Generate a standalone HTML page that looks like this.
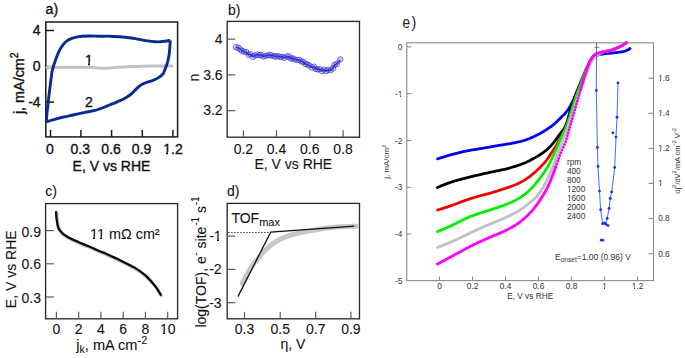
<!DOCTYPE html>
<html><head><meta charset="utf-8"><title>Figure</title>
<style>
html,body{margin:0;padding:0;background:#fff;}
body{width:685px;height:358px;overflow:hidden;font-family:"Liberation Sans",sans-serif;}
svg{display:block;}
</style></head><body>
<svg width="685" height="358" viewBox="0 0 685 358">
<rect width="685" height="358" fill="#fff"/>
<g stroke="#1a1a1a" stroke-width="1.5" fill="none">
<rect x="45.80" y="22.00" width="131.80" height="114.90"/>
<line x1="45.80" y1="30.50" x2="54.00" y2="30.50"/>
<line x1="45.80" y1="66.60" x2="54.00" y2="66.60"/>
<line x1="45.80" y1="102.10" x2="54.00" y2="102.10"/>
<line x1="50.50" y1="136.90" x2="50.50" y2="129.90"/>
<line x1="80.90" y1="136.90" x2="80.90" y2="129.90"/>
<line x1="111.60" y1="136.90" x2="111.60" y2="129.90"/>
<line x1="142.30" y1="136.90" x2="142.30" y2="129.90"/>
<line x1="172.90" y1="136.90" x2="172.90" y2="129.90"/>
</g>
<path d="M47.00,67.40 C49.17,67.38 55.33,67.33 60.00,67.30 C64.67,67.27 70.83,67.21 75.00,67.20 C79.17,67.19 82.17,67.20 85.00,67.25 C87.83,67.30 89.83,67.39 92.00,67.50 C94.17,67.61 96.00,67.78 98.00,67.90 C100.00,68.02 102.00,68.18 104.00,68.20 C106.00,68.22 108.17,68.12 110.00,68.00 C111.83,67.88 113.00,67.68 115.00,67.50 C117.00,67.32 118.67,67.08 122.00,66.90 C125.33,66.72 130.33,66.53 135.00,66.40 C139.67,66.27 143.83,66.17 150.00,66.10 C156.17,66.03 168.33,66.02 172.00,66.00" stroke="#c2c2c2" stroke-width="3.0" fill="none" stroke-linecap="round"/>
<path d="M46.30,121.80 C46.43,120.17 46.85,114.63 47.10,112.00 C47.35,109.37 47.52,108.50 47.80,106.00 C48.08,103.50 48.45,100.00 48.80,97.00 C49.15,94.00 49.55,90.83 49.90,88.00 C50.25,85.17 50.55,82.67 50.90,80.00 C51.25,77.33 51.52,74.47 52.00,72.00 C52.48,69.53 53.10,67.50 53.80,65.20 C54.50,62.90 55.32,60.55 56.20,58.20 C57.08,55.85 58.03,53.25 59.10,51.10 C60.17,48.95 61.23,47.05 62.60,45.30 C63.97,43.55 65.53,41.82 67.30,40.60 C69.07,39.38 71.42,38.63 73.20,38.00 C74.98,37.37 76.53,37.10 78.00,36.80 C79.47,36.50 80.00,36.33 82.00,36.20 C84.00,36.07 87.00,36.00 90.00,36.00 C93.00,36.00 96.67,36.17 100.00,36.20 C103.33,36.23 106.67,36.10 110.00,36.20 C113.33,36.30 117.50,36.62 120.00,36.80 C122.50,36.98 122.48,37.00 125.00,37.30 C127.52,37.60 131.32,38.00 135.10,38.60 C138.88,39.20 144.38,40.38 147.70,40.90 C151.02,41.42 152.90,41.55 155.00,41.70 C157.10,41.85 158.63,41.87 160.30,41.80 C161.97,41.73 163.33,41.55 165.00,41.30 C166.67,41.05 169.42,40.47 170.30,40.30 M170.30,40.30 C170.23,41.33 170.05,44.47 169.90,46.50 C169.75,48.53 169.62,50.67 169.40,52.50 C169.18,54.33 168.90,55.92 168.60,57.50 C168.30,59.08 167.93,60.72 167.60,62.00 C167.27,63.28 166.98,64.13 166.60,65.20 C166.22,66.27 165.87,67.00 165.30,68.40 C164.73,69.80 164.32,72.07 163.20,73.60 C162.08,75.13 160.30,76.48 158.60,77.60 C156.90,78.72 154.87,79.55 153.00,80.30 C151.13,81.05 149.27,81.42 147.40,82.10 C145.53,82.78 143.37,83.52 141.80,84.40 C140.23,85.28 139.22,86.33 138.00,87.40 C136.78,88.47 135.83,89.53 134.50,90.80 C133.17,92.07 131.73,93.68 130.00,95.00 C128.27,96.32 125.93,97.70 124.10,98.70 C122.27,99.70 120.62,100.27 119.00,101.00 C117.38,101.73 115.98,102.43 114.40,103.10 C112.82,103.77 111.13,104.35 109.50,105.00 C107.87,105.65 106.23,106.37 104.60,107.00 C102.97,107.63 101.33,108.23 99.70,108.80 C98.07,109.37 97.25,109.80 94.80,110.40 C92.35,111.00 88.63,111.63 85.00,112.40 C81.37,113.17 76.57,114.23 73.00,115.00 C69.43,115.77 66.60,116.28 63.60,117.00 C60.60,117.72 57.88,118.50 55.00,119.30 C52.12,120.10 47.75,121.38 46.30,121.80" stroke="#0a2992" stroke-width="2.9" fill="none" stroke-linejoin="round"/>
<g font-family="Liberation Sans, sans-serif" font-size="14" fill="#111" stroke="#111" stroke-width="0.35">
<text x="45.6" y="14.3">a)</text>
<text x="40.6" y="35.2" text-anchor="end">4</text>
<text x="40.6" y="71.2" text-anchor="end">0</text>
<text x="40.6" y="106.6" text-anchor="end">-4</text>
<text x="49.9" y="154.2" text-anchor="middle">0</text>
<text x="80.3" y="154.2" text-anchor="middle">0.3</text>
<text x="111.1" y="154.2" text-anchor="middle">0.6</text>
<text x="141.6" y="154.2" text-anchor="middle">0.9</text>
<text x="173.0" y="154.2" text-anchor="middle">1.2</text>
<text x="111.5" y="170.9" text-anchor="middle">E, V vs RHE</text>
<text transform="translate(23.6,83.2) rotate(-90)" text-anchor="middle" font-size="14.4">j, mA/cm<tspan font-size="10.5" dy="-6">2</tspan></text>
<text x="89" y="64.6" text-anchor="middle">1</text>
<text x="89" y="107.2" text-anchor="middle">2</text>
</g>
<g stroke="#2a2a2a" stroke-width="1.35" fill="none">
<rect x="227.20" y="21.40" width="132.30" height="115.80"/>
</g><g stroke="#5a5a5a" stroke-width="1.2" fill="none">
<line x1="227.20" y1="39.10" x2="235.20" y2="39.10"/>
<line x1="227.20" y1="74.90" x2="235.20" y2="74.90"/>
<line x1="227.20" y1="110.70" x2="235.20" y2="110.70"/>
<line x1="243.40" y1="137.20" x2="243.40" y2="130.20"/>
<line x1="276.50" y1="137.20" x2="276.50" y2="130.20"/>
<line x1="309.80" y1="137.20" x2="309.80" y2="130.20"/>
<line x1="343.10" y1="137.20" x2="343.10" y2="130.20"/>
</g>
<path d="M236.10,48.10 L236.60,48.27 L237.10,48.44 L237.60,48.63 L238.10,48.82 L238.60,49.01 L239.10,49.22 L239.60,49.43 L240.10,49.64 L240.60,49.87 L241.10,50.11 L241.60,50.36 L242.10,50.61 L242.60,50.87 L243.10,51.13 L243.60,51.39 L244.10,51.65 L244.60,51.92 L245.10,52.19 L245.60,52.47 L246.10,52.76 L246.60,53.04 L247.10,53.31 L247.60,53.57 L248.10,53.82 L248.60,54.04 L249.10,54.24 L249.60,54.43 L250.10,54.63 L250.60,54.83 L251.10,55.02 L251.60,55.21 L252.10,55.37 L252.60,55.52 L253.10,55.64 L253.60,55.73 L254.10,55.79 L254.60,55.80 L255.10,55.80 L255.60,55.80 L256.10,55.80 L256.60,55.80 L257.10,55.80 L257.60,55.80 L258.10,55.80 L258.60,55.80 L259.10,55.80 L259.60,55.80 L260.10,55.80 L260.60,55.80 L261.10,55.79 L261.60,55.78 L262.10,55.76 L262.60,55.75 L263.10,55.73 L263.60,55.72 L264.10,55.71 L264.60,55.70 L265.10,55.70 L265.60,55.71 L266.10,55.72 L266.60,55.75 L267.10,55.78 L267.60,55.82 L268.10,55.86 L268.60,55.89 L269.10,55.93 L269.60,55.97 L270.10,56.01 L270.60,56.04 L271.10,56.08 L271.60,56.12 L272.10,56.16 L272.60,56.20 L273.10,56.24 L273.60,56.28 L274.10,56.32 L274.60,56.35 L275.10,56.38 L275.60,56.40 L276.10,56.43 L276.60,56.45 L277.10,56.46 L277.60,56.48 L278.10,56.49 L278.60,56.51 L279.10,56.52 L279.60,56.54 L280.10,56.56 L280.60,56.58 L281.10,56.61 L281.60,56.63 L282.10,56.66 L282.60,56.70 L283.10,56.73 L283.60,56.77 L284.10,56.81 L284.60,56.86 L285.10,56.91 L285.60,56.96 L286.10,57.01 L286.60,57.07 L287.10,57.14 L287.60,57.22 L288.10,57.31 L288.60,57.40 L289.10,57.50 L289.60,57.60 L290.10,57.70 L290.60,57.81 L291.10,57.92 L291.60,58.04 L292.10,58.17 L292.60,58.30 L293.10,58.44 L293.60,58.59 L294.10,58.74 L294.60,58.89 L295.10,59.05 L295.60,59.21 L296.10,59.37 L296.60,59.53 L297.10,59.70 L297.60,59.86 L298.10,60.03 L298.60,60.21 L299.10,60.38 L299.60,60.57 L300.10,60.75 L300.60,60.94 L301.10,61.14 L301.60,61.34 L302.10,61.55 L302.60,61.77 L303.10,61.99 L303.60,62.22 L304.10,62.44 L304.60,62.68 L305.10,62.91 L305.60,63.14 L306.10,63.38 L306.60,63.61 L307.10,63.86 L307.60,64.10 L308.10,64.35 L308.60,64.60 L309.10,64.85 L309.60,65.10 L310.10,65.35 L310.60,65.61 L311.10,65.87 L311.60,66.13 L312.10,66.39 L312.60,66.66 L313.10,66.92 L313.60,67.19 L314.10,67.45 L314.60,67.72 L315.10,68.00 L315.60,68.27 L316.10,68.54 L316.60,68.80 L317.10,69.05 L317.60,69.31 L318.10,69.57 L318.60,69.80 L319.10,69.96 L319.60,70.05 L320.10,70.12 L320.60,70.18 L321.10,70.23 L321.60,70.27 L322.10,70.29 L322.60,70.30 L323.10,70.29 L323.60,70.28 L324.10,70.26 L324.60,70.24 L325.10,70.21 L325.60,70.19 L326.10,70.17 L326.60,70.15 L327.10,70.12 L327.60,70.09 L328.10,70.04 L328.60,69.99 L329.10,69.86 L329.60,69.67 L330.10,69.42 L330.60,69.15 L331.10,68.85 L331.60,68.48 L332.10,68.05 L332.60,67.58 L333.10,67.10 L333.60,66.56 L334.10,65.97 L334.60,65.37 L335.10,64.80 L335.60,64.28 L336.10,63.77 L336.60,63.28 L337.10,62.79 L337.60,62.30 L338.10,61.80 L338.60,61.30 L339.10,60.80 L339.60,60.30 L340.10,59.80 L340.30,59.60" stroke="#c4c4f2" stroke-width="4.4" fill="none" stroke-linejoin="round" stroke-linecap="round"/>
<g stroke="#4a4ad8" stroke-width="0.85" fill="none">
<circle cx="236.0" cy="47.2" r="2.7"/>
<circle cx="238.3" cy="47.7" r="2.7"/>
<circle cx="240.3" cy="49.4" r="2.7"/>
<circle cx="242.0" cy="50.8" r="2.7"/>
<circle cx="244.1" cy="51.7" r="2.7"/>
<circle cx="246.3" cy="52.0" r="2.7"/>
<circle cx="248.6" cy="54.9" r="2.7"/>
<circle cx="250.5" cy="54.2" r="2.7"/>
<circle cx="253.0" cy="56.8" r="2.7"/>
<circle cx="255.1" cy="55.5" r="2.7"/>
<circle cx="257.5" cy="54.6" r="2.7"/>
<circle cx="259.5" cy="55.3" r="2.7"/>
<circle cx="261.0" cy="54.8" r="2.7"/>
<circle cx="263.2" cy="56.5" r="2.7"/>
<circle cx="265.2" cy="55.9" r="2.7"/>
<circle cx="267.7" cy="55.5" r="2.7"/>
<circle cx="269.7" cy="54.8" r="2.7"/>
<circle cx="271.4" cy="55.4" r="2.7"/>
<circle cx="274.0" cy="56.1" r="2.7"/>
<circle cx="275.9" cy="56.6" r="2.7"/>
<circle cx="278.1" cy="56.0" r="2.7"/>
<circle cx="280.4" cy="57.1" r="2.7"/>
<circle cx="282.1" cy="56.9" r="2.7"/>
<circle cx="284.4" cy="57.8" r="2.7"/>
<circle cx="286.7" cy="56.5" r="2.7"/>
<circle cx="289.0" cy="56.4" r="2.7"/>
<circle cx="290.6" cy="58.5" r="2.7"/>
<circle cx="292.5" cy="58.3" r="2.7"/>
<circle cx="294.5" cy="59.4" r="2.7"/>
<circle cx="297.2" cy="59.9" r="2.7"/>
<circle cx="299.4" cy="59.9" r="2.7"/>
<circle cx="301.4" cy="61.4" r="2.7"/>
<circle cx="303.4" cy="62.0" r="2.7"/>
<circle cx="305.7" cy="64.2" r="2.7"/>
<circle cx="307.5" cy="64.5" r="2.7"/>
<circle cx="309.2" cy="65.6" r="2.7"/>
<circle cx="311.8" cy="67.5" r="2.7"/>
<circle cx="314.1" cy="66.7" r="2.7"/>
<circle cx="315.8" cy="68.9" r="2.7"/>
<circle cx="317.6" cy="69.4" r="2.7"/>
<circle cx="319.8" cy="69.1" r="2.7"/>
<circle cx="321.8" cy="71.0" r="2.7"/>
<circle cx="324.0" cy="69.6" r="2.7"/>
<circle cx="326.3" cy="71.1" r="2.7"/>
<circle cx="328.2" cy="69.9" r="2.7"/>
<circle cx="330.6" cy="70.2" r="2.7"/>
<circle cx="333.0" cy="68.4" r="2.7"/>
<circle cx="334.6" cy="64.9" r="2.7"/>
<circle cx="336.8" cy="64.0" r="2.7"/>
<circle cx="340.3" cy="59.4" r="2.7"/>
</g>
<path d="M236.35,47.25 L237.02,47.39 L237.88,47.67 L238.75,48.11 L239.55,48.70 L240.30,49.35 L241.06,49.99 L241.86,50.59 L242.72,51.09 L243.63,51.46 L244.58,51.72 L245.53,51.95 L246.38,52.34 L247.06,52.99 L247.64,53.75 L248.28,54.37 L249.06,54.59 L249.92,54.52 L250.74,54.64 L251.45,55.16 L252.10,55.84 L252.81,56.31 L253.62,56.31 L254.46,55.94 L255.32,55.45 L256.22,55.05 L257.15,54.83 L258.10,54.87 L259.05,55.02 L259.99,55.05 L260.89,55.09 L261.72,55.40 L262.49,55.91 L263.32,56.24 L264.22,56.22 L265.17,56.00 L266.14,55.77 L267.11,55.57 L268.08,55.33 L269.03,55.10 L269.99,55.04 L270.94,55.21 L271.90,55.49 L272.85,55.77 L273.81,56.06 L274.77,56.32 L275.72,56.45 L276.68,56.37 L277.62,56.22 L278.54,56.30 L279.44,56.60 L280.36,56.88 L281.31,56.97 L282.27,57.07 L283.20,57.31 L284.10,57.51 L284.99,57.40 L285.85,57.02 L286.74,56.66 L287.69,56.51 L288.60,56.61 L289.37,57.03 L290.02,57.67 L290.73,58.18 L291.60,58.39 L292.54,58.52 L293.45,58.83 L294.34,59.22 L295.27,59.54 L296.24,59.72 L297.23,59.82 L298.22,59.89 L299.18,60.05 L300.05,60.42 L300.85,60.95 L301.70,61.42 L302.60,61.79 L303.47,62.23 L304.22,62.83 L304.94,63.49 L305.74,64.02 L306.64,64.35 L307.57,64.65 L308.44,65.09 L309.25,65.66 L310.03,66.28 L310.82,66.85 L311.67,67.17 L312.58,67.17 L313.48,67.06 L314.29,67.24 L314.97,67.81 L315.64,68.48 L316.43,69.00 L317.35,69.26 L318.32,69.30 L319.27,69.31 L320.13,69.56 L320.88,70.08 L321.61,70.51 L322.39,70.51 L323.19,70.17 L324.01,69.97 L324.83,70.19 L325.64,70.59 L326.45,70.72 L327.28,70.46 L328.13,70.13 L329.06,70.01 L330.03,70.02 L330.97,69.88 L331.81,69.45 L332.52,68.80 L333.10,68.01 L333.56,67.13 L333.97,66.23 L334.47,65.41 L335.17,64.77 L336.01,64.30 L336.86,63.81 L337.63,63.19 L338.30,62.47 L338.90,61.67 L339.44,60.86 L339.89,60.11" stroke="#2c2cc6" stroke-width="1.5" fill="none" stroke-linejoin="round"/>
<g font-family="Liberation Sans, sans-serif" font-size="14" fill="#111" stroke="#111" stroke-width="0.08">
<text x="228" y="14.5">b)</text>
<text x="222.6" y="44.1" text-anchor="end">4</text>
<text x="222.6" y="79.8" text-anchor="end">3.6</text>
<text x="222.6" y="115.3" text-anchor="end">3.2</text>
<text x="243.4" y="154.1" text-anchor="middle">0.2</text>
<text x="276.5" y="154.1" text-anchor="middle">0.4</text>
<text x="309.8" y="154.1" text-anchor="middle">0.6</text>
<text x="343.1" y="154.1" text-anchor="middle">0.8</text>
<text x="293.3" y="168.8" text-anchor="middle">E, V vs RHE</text>
<text transform="translate(198.6,77.6) rotate(-90)" text-anchor="middle">n</text>
</g>
<g stroke="#2a2a2a" stroke-width="1.35" fill="none">
<rect x="45.60" y="203.60" width="132.00" height="115.20"/>
</g><g stroke="#5a5a5a" stroke-width="1.2" fill="none">
<line x1="45.60" y1="230.60" x2="53.80" y2="230.60"/>
<line x1="45.60" y1="263.80" x2="53.80" y2="263.80"/>
<line x1="45.60" y1="297.00" x2="53.80" y2="297.00"/>
<line x1="56.40" y1="318.80" x2="56.40" y2="311.80"/>
<line x1="78.66" y1="318.80" x2="78.66" y2="311.80"/>
<line x1="100.92" y1="318.80" x2="100.92" y2="311.80"/>
<line x1="123.18" y1="318.80" x2="123.18" y2="311.80"/>
<line x1="145.44" y1="318.80" x2="145.44" y2="311.80"/>
<line x1="167.70" y1="318.80" x2="167.70" y2="311.80"/>
</g>
<path d="M56.70,213.00 C56.73,213.65 56.80,215.65 56.90,216.90 C57.00,218.15 57.07,218.93 57.30,220.50 C57.53,222.07 57.95,224.77 58.30,226.30 C58.65,227.83 58.92,228.72 59.40,229.70 C59.88,230.68 60.50,231.37 61.20,232.20 C61.90,233.03 62.62,233.88 63.60,234.70 C64.58,235.52 65.77,236.27 67.10,237.10 C68.43,237.93 69.97,238.88 71.60,239.70 C73.23,240.52 75.07,241.20 76.90,242.00 C78.73,242.80 80.65,243.68 82.60,244.50 C84.55,245.32 86.60,246.07 88.60,246.90 C90.60,247.73 92.63,248.63 94.60,249.50 C96.57,250.37 98.57,251.33 100.40,252.10 C102.23,252.87 103.65,253.25 105.60,254.10 C107.55,254.95 110.15,256.30 112.10,257.20 C114.05,258.10 115.47,258.63 117.30,259.50 C119.13,260.37 121.13,261.43 123.10,262.40 C125.07,263.37 127.10,264.28 129.10,265.30 C131.10,266.32 133.15,267.35 135.10,268.50 C137.05,269.65 138.97,270.88 140.80,272.20 C142.63,273.52 144.47,274.93 146.10,276.40 C147.73,277.87 149.35,279.67 150.60,281.00 C151.85,282.33 152.63,283.27 153.60,284.40 C154.57,285.53 155.50,286.58 156.40,287.80 C157.30,289.02 158.18,290.38 159.00,291.70 C159.82,293.02 160.92,295.03 161.30,295.70" stroke="#c8c8c8" stroke-width="3.6" fill="none" stroke-linecap="round"/>
<path d="M56.10,212.10 C56.13,212.75 56.20,214.75 56.30,216.00 C56.40,217.25 56.47,218.03 56.70,219.60 C56.93,221.17 57.35,223.87 57.70,225.40 C58.05,226.93 58.32,227.82 58.80,228.80 C59.28,229.78 59.90,230.47 60.60,231.30 C61.30,232.13 62.02,232.98 63.00,233.80 C63.98,234.62 65.17,235.37 66.50,236.20 C67.83,237.03 69.37,237.98 71.00,238.80 C72.63,239.62 74.47,240.30 76.30,241.10 C78.13,241.90 80.05,242.78 82.00,243.60 C83.95,244.42 86.00,245.17 88.00,246.00 C90.00,246.83 92.03,247.73 94.00,248.60 C95.97,249.47 97.97,250.43 99.80,251.20 C101.63,251.97 103.05,252.35 105.00,253.20 C106.95,254.05 109.55,255.40 111.50,256.30 C113.45,257.20 114.87,257.73 116.70,258.60 C118.53,259.47 120.53,260.53 122.50,261.50 C124.47,262.47 126.50,263.38 128.50,264.40 C130.50,265.42 132.55,266.45 134.50,267.60 C136.45,268.75 138.37,269.98 140.20,271.30 C142.03,272.62 143.87,274.03 145.50,275.50 C147.13,276.97 148.75,278.77 150.00,280.10 C151.25,281.43 152.03,282.37 153.00,283.50 C153.97,284.63 154.90,285.68 155.80,286.90 C156.70,288.12 157.58,289.48 158.40,290.80 C159.22,292.12 160.32,294.13 160.70,294.80" stroke="#0a0a0a" stroke-width="2.25" fill="none" stroke-linecap="round"/>
<g font-family="Liberation Sans, sans-serif" font-size="14" fill="#111" stroke="#111" stroke-width="0.08">
<text x="45.2" y="195.8">c)</text>
<text x="41" y="236.6" text-anchor="end">0.9</text>
<text x="41" y="268.6" text-anchor="end">0.6</text>
<text x="41" y="302.8" text-anchor="end">0.3</text>
<text x="56.4" y="333.6" text-anchor="middle">0</text>
<text x="78.7" y="333.6" text-anchor="middle">2</text>
<text x="100.9" y="333.6" text-anchor="middle">4</text>
<text x="123.2" y="333.6" text-anchor="middle">6</text>
<text x="145.4" y="333.6" text-anchor="middle">8</text>
<text x="167.7" y="333.6" text-anchor="middle">10</text>
<text x="90" y="238.5" font-size="14.4">11 mΩ cm²</text>
<text transform="translate(16.2,269.3) rotate(-90)" text-anchor="middle">E, V vs RHE</text>
<text x="76.3" y="350" font-size="14.6">j<tspan font-size="10.5" dy="3">k</tspan><tspan dy="-3">, mA cm</tspan><tspan font-size="11" dy="-6.5">-2</tspan></text>
</g>
<g stroke="#2a2a2a" stroke-width="1.35" fill="none">
<rect x="227.20" y="203.40" width="132.30" height="115.40"/>
</g><g stroke="#5a5a5a" stroke-width="1.2" fill="none">
<line x1="227.20" y1="236.10" x2="235.20" y2="236.10"/>
<line x1="227.20" y1="269.40" x2="235.20" y2="269.40"/>
<line x1="227.20" y1="302.70" x2="235.20" y2="302.70"/>
<line x1="244.50" y1="318.80" x2="244.50" y2="311.80"/>
<line x1="280.20" y1="318.80" x2="280.20" y2="311.80"/>
<line x1="315.70" y1="318.80" x2="315.70" y2="311.80"/>
<line x1="350.90" y1="318.80" x2="350.90" y2="311.80"/>
</g>
<line x1="228.2" y1="232.5" x2="270" y2="232.5" stroke="#333" stroke-width="1.2" stroke-dasharray="1.4,1.6"/>
<path d="M242.30,283.60 L242.70,282.80 L243.10,282.01 L243.50,281.23 L243.90,280.45 L244.30,279.68 L244.70,278.91 L245.10,278.15 L245.50,277.40 L245.90,276.65 L246.30,275.90 L246.70,275.16 L247.10,274.43 L247.50,273.70 L247.90,272.98 L248.30,272.27 L248.70,271.57 L249.10,270.89 L249.50,270.20 L249.90,269.53 L250.30,268.86 L250.70,268.21 L251.10,267.57 L251.50,266.95 L251.90,266.35 L252.30,265.77 L252.70,265.21 L253.10,264.66 L253.50,264.13 L253.90,263.61 L254.30,263.10 L254.70,262.59 L255.10,262.10 L255.50,261.60 L255.90,261.11 L256.30,260.64 L256.70,260.17 L257.10,259.71 L257.50,259.25 L257.90,258.79 L258.30,258.32 L258.70,257.84 L259.10,257.36 L259.50,256.86 L259.90,256.37 L260.30,255.86 L260.70,255.36 L261.10,254.86 L261.50,254.37 L261.90,253.88 L262.30,253.40 L262.70,252.93 L263.10,252.47 L263.50,252.03 L263.90,251.60 L264.30,251.19 L264.70,250.78 L265.10,250.38 L265.50,249.99 L265.90,249.61 L266.30,249.23 L266.70,248.86 L267.10,248.49 L267.50,248.13 L267.90,247.78 L268.30,247.43 L268.70,247.08 L269.10,246.75 L269.50,246.41 L269.90,246.08 L270.30,245.76 L270.70,245.44 L271.10,245.12 L271.50,244.81 L271.90,244.50 L272.30,244.20 L272.70,243.91 L273.10,243.62 L273.50,243.33 L273.90,243.05 L274.30,242.77 L274.70,242.50 L275.10,242.23 L275.50,241.97 L275.90,241.71 L276.30,241.45 L276.70,241.20 L277.10,240.95 L277.50,240.70 L277.90,240.46 L278.30,240.23 L278.70,240.00 L279.10,239.78 L279.50,239.56 L279.90,239.35 L280.30,239.15 L280.70,238.95 L281.10,238.76 L281.50,238.58 L281.90,238.39 L282.30,238.22 L282.70,238.04 L283.10,237.87 L283.50,237.71 L283.90,237.54 L284.30,237.38 L284.70,237.22 L285.10,237.06 L285.50,236.90 L285.90,236.75 L286.30,236.59 L286.70,236.44 L287.10,236.29 L287.50,236.14 L287.90,236.00 L288.30,235.85 L288.70,235.72 L289.10,235.58 L289.50,235.45 L289.90,235.33 L290.30,235.21 L290.70,235.09 L291.10,234.98 L291.50,234.86 L291.90,234.75 L292.30,234.64 L292.70,234.53 L293.10,234.43 L293.50,234.32 L293.90,234.22 L294.30,234.12 L294.70,234.02 L295.10,233.92 L295.50,233.82 L295.90,233.73 L296.30,233.63 L296.70,233.54 L297.10,233.44 L297.50,233.35 L297.90,233.26 L298.30,233.17 L298.70,233.08 L299.10,233.00 L299.50,232.91 L299.90,232.82 L300.30,232.74 L300.70,232.65 L301.10,232.57 L301.50,232.49 L301.90,232.41 L302.30,232.33 L302.70,232.25 L303.10,232.17 L303.50,232.09 L303.90,232.02 L304.30,231.94 L304.70,231.87 L305.10,231.79 L305.50,231.72 L305.90,231.65 L306.30,231.57 L306.70,231.50 L307.10,231.43 L307.50,231.36 L307.90,231.28 L308.30,231.21 L308.70,231.14 L309.10,231.07 L309.50,230.99 L309.90,230.92 L310.30,230.84 L310.70,230.77 L311.10,230.69 L311.50,230.62 L311.90,230.54 L312.30,230.47 L312.70,230.39 L313.10,230.32 L313.50,230.24 L313.90,230.17 L314.30,230.09 L314.70,230.01 L315.10,229.94 L315.50,229.87 L315.90,229.79 L316.30,229.72 L316.70,229.65 L317.10,229.58 L317.50,229.51 L317.90,229.44 L318.30,229.37 L318.70,229.31 L319.10,229.24 L319.50,229.18 L319.90,229.12 L320.30,229.05 L320.70,228.99 L321.10,228.93 L321.50,228.87 L321.90,228.81 L322.30,228.75 L322.70,228.69 L323.10,228.63 L323.50,228.57 L323.90,228.51 L324.30,228.45 L324.70,228.39 L325.10,228.33 L325.50,228.27 L325.90,228.22 L326.30,228.16 L326.70,228.10 L327.10,228.05 L327.50,227.99 L327.90,227.94 L328.30,227.89 L328.70,227.84 L329.10,227.78 L329.50,227.73 L329.90,227.69 L330.30,227.64 L330.70,227.59 L331.10,227.55 L331.50,227.50 L331.90,227.46 L332.30,227.42 L332.70,227.38 L333.10,227.34 L333.50,227.30 L333.90,227.27 L334.30,227.23 L334.70,227.20 L335.10,227.17 L335.50,227.14 L335.90,227.11 L336.30,227.08 L336.70,227.05 L337.10,227.03 L337.50,227.00 L337.90,226.97 L338.30,226.95 L338.70,226.92 L339.10,226.90 L339.50,226.88 L339.90,226.85 L340.30,226.83 L340.70,226.81 L341.10,226.79 L341.50,226.77 L341.90,226.75 L342.30,226.73 L342.70,226.71 L343.10,226.69 L343.50,226.67 L343.90,226.65 L344.30,226.63 L344.70,226.61 L345.10,226.60 L345.50,226.58 L345.90,226.56 L346.30,226.54 L346.70,226.53 L347.10,226.51 L347.50,226.49 L347.90,226.47 L348.30,226.46 L348.70,226.44 L349.10,226.43 L349.50,226.41 L349.90,226.40 L350.30,226.38 L350.70,226.37 L351.10,226.35 L351.50,226.34 L351.90,226.32 L352.30,226.31 L352.70,226.30 L353.10,226.28 L353.50,226.27 L353.90,226.26 L354.30,226.25 L354.70,226.23 L355.10,226.22 L355.50,226.21 L355.90,226.20 L356.00,226.20" stroke="#c6c6c6" stroke-width="5.0" fill="none" stroke-linecap="round"/>
<path d="M237.9,296.6 L270.7,232.2 L354.3,226.2" stroke="#111" stroke-width="1.3" fill="none"/>
<g font-family="Liberation Sans, sans-serif" font-size="14" fill="#111" stroke="#111" stroke-width="0.08">
<text x="227" y="195.8">d)</text>
<text x="221.6" y="241" text-anchor="end">-1</text>
<text x="221.6" y="274.4" text-anchor="end">-2</text>
<text x="221.6" y="307.6" text-anchor="end">-3</text>
<text x="244.5" y="333.6" text-anchor="middle">0.3</text>
<text x="280.2" y="333.6" text-anchor="middle">0.5</text>
<text x="315.7" y="333.6" text-anchor="middle">0.7</text>
<text x="350.9" y="333.6" text-anchor="middle">0.9</text>
<text x="231.4" y="222.8">TOF<tspan font-size="11" dy="3.5">max</tspan></text>
<text x="292.9" y="349" text-anchor="middle">η, V</text>
<text transform="translate(205.5,327.6) rotate(-90)">log(TOF), e<tspan font-size="10" dy="-6.3" dx="0.6">-</tspan><tspan dy="6.3"> site</tspan><tspan font-size="10" dy="-6.3" dx="0.8">-1</tspan><tspan dy="6.3"> s</tspan><tspan font-size="10" dy="-6.3" dx="0.8">-1</tspan></text>
</g>
<g stroke="#8a8a8a" stroke-width="1.1" fill="none">
<rect x="406.80" y="42.80" width="246.70" height="237.80"/>
<line x1="406.80" y1="46.90" x2="411.30" y2="46.90"/>
<line x1="406.80" y1="93.70" x2="411.30" y2="93.70"/>
<line x1="406.80" y1="140.50" x2="411.30" y2="140.50"/>
<line x1="406.80" y1="187.30" x2="411.30" y2="187.30"/>
<line x1="406.80" y1="234.10" x2="411.30" y2="234.10"/>
<line x1="439.50" y1="280.60" x2="439.50" y2="276.60"/>
<line x1="472.50" y1="280.60" x2="472.50" y2="276.60"/>
<line x1="505.50" y1="280.60" x2="505.50" y2="276.60"/>
<line x1="538.50" y1="280.60" x2="538.50" y2="276.60"/>
<line x1="571.50" y1="280.60" x2="571.50" y2="276.60"/>
<line x1="604.50" y1="280.60" x2="604.50" y2="276.60"/>
<line x1="637.50" y1="280.60" x2="637.50" y2="276.60"/>
<line x1="653.50" y1="78.30" x2="648.50" y2="78.30"/>
<line x1="653.50" y1="113.30" x2="648.50" y2="113.30"/>
<line x1="653.50" y1="148.40" x2="648.50" y2="148.40"/>
<line x1="653.50" y1="183.40" x2="648.50" y2="183.40"/>
<line x1="653.50" y1="218.60" x2="648.50" y2="218.60"/>
<line x1="653.50" y1="253.70" x2="648.50" y2="253.70"/>
</g>
<path d="M437.57,158.85 L438.08,158.69 L438.65,158.50 L439.28,158.30 L439.96,158.08 L440.70,157.85 L441.48,157.60 L442.30,157.34 L443.16,157.08 L444.04,156.81 L444.94,156.54 L445.86,156.26 L446.79,155.98 L447.73,155.71 L448.68,155.43 L449.64,155.16 L450.59,154.89 L451.55,154.63 L452.52,154.36 L453.48,154.10 L454.45,153.84 L455.41,153.59 L456.38,153.34 L457.35,153.09 L458.32,152.85 L459.29,152.61 L460.26,152.37 L461.23,152.14 L462.21,151.92 L463.18,151.70 L464.16,151.49 L465.14,151.28 L466.12,151.08 L467.10,150.88 L468.08,150.69 L469.06,150.51 L470.04,150.33 L471.03,150.16 L472.01,149.99 L473.00,149.83 L473.98,149.67 L474.97,149.51 L475.96,149.35 L476.95,149.20 L477.93,149.04 L478.92,148.88 L479.91,148.72 L480.89,148.56 L481.88,148.40 L482.87,148.23 L483.85,148.06 L484.84,147.89 L485.82,147.72 L486.80,147.54 L487.79,147.36 L488.77,147.19 L489.76,147.01 L490.74,146.83 L491.73,146.66 L492.71,146.49 L493.70,146.32 L494.68,146.15 L495.67,145.98 L496.65,145.81 L497.64,145.65 L498.63,145.48 L499.61,145.32 L500.60,145.16 L501.59,145.00 L502.57,144.84 L503.56,144.68 L504.55,144.52 L505.53,144.36 L506.52,144.20 L507.51,144.04 L508.49,143.87 L509.48,143.71 L510.46,143.54 L511.45,143.36 L512.43,143.18 L513.41,143.00 L514.40,142.81 L515.38,142.62 L516.35,142.42 L517.33,142.21 L518.30,141.99 L519.27,141.76 L520.24,141.52 L521.21,141.27 L522.17,141.01 L523.13,140.73 L524.08,140.44 L525.03,140.14 L525.97,139.82 L526.91,139.50 L527.85,139.15 L528.78,138.80 L529.71,138.43 L530.63,138.05 L531.55,137.66 L532.46,137.26 L533.37,136.85 L534.27,136.42 L535.17,135.99 L536.06,135.55 L536.95,135.09 L537.84,134.63 L538.72,134.16 L539.59,133.68 L540.47,133.20 L541.34,132.71 L542.20,132.21 L543.06,131.70 L543.92,131.19 L544.77,130.66 L545.62,130.13 L546.46,129.60 L547.30,129.05 L548.13,128.51 L548.96,127.95 L549.79,127.39 L550.61,126.82 L551.42,126.24 L552.22,125.64 L553.02,125.03 L553.80,124.41 L554.56,123.76 L555.31,123.10 L556.04,122.41 L556.76,121.72 L557.47,121.02 L558.19,120.32 L558.89,119.61 L559.60,118.90 L560.31,118.20 L561.02,117.49 L561.73,116.79 L562.44,116.09 L563.15,115.38 L563.85,114.67 L564.54,113.94 L565.21,113.21 L565.87,112.45 L566.51,111.69 L567.14,110.90 L567.74,110.11 L568.31,109.29 L568.85,108.45 L569.38,107.60 L569.88,106.73 L570.38,105.86 L570.86,104.99 L571.33,104.10 L571.79,103.22 L572.24,102.32 L572.67,101.42 L573.09,100.51 L573.50,99.60 L573.90,98.69 L574.30,97.77 L574.69,96.85 L575.07,95.92 L575.44,95.00 L575.81,94.07 L576.20,93.14 L576.60,92.23 L577.01,91.32 L577.43,90.41 L577.86,89.51 L578.29,88.60 L578.72,87.70 L579.14,86.79 L579.56,85.89 L579.97,84.97 L580.38,84.06 L580.78,83.15 L581.19,82.23 L581.59,81.31 L581.98,80.40 L582.38,79.48 L582.77,78.56 L583.15,77.63 L583.53,76.71 L583.89,75.78 L584.26,74.84 L584.62,73.91 L584.98,72.98 L585.35,72.05 L585.73,71.13 L586.12,70.21 L586.53,69.29 L586.95,68.38 L587.37,67.48 L587.80,66.57 L588.24,65.68 L588.70,64.79 L589.18,63.91 L589.68,63.05 L590.20,62.19 L590.74,61.35 L591.31,60.53 L591.90,59.72 L592.52,58.94 L593.20,58.21 L593.91,57.50 L594.65,56.84 L595.46,56.25 L596.33,55.76 L597.24,55.36 L598.18,55.01 L599.13,54.72 L600.10,54.47 L601.08,54.27 L602.07,54.10 L603.06,53.95 L604.05,53.82 L605.04,53.70 L606.03,53.59 L607.03,53.48 L608.02,53.39 L609.02,53.30 L610.01,53.20 L611.01,53.10 L612.00,53.00 L613.00,52.91 L614.00,52.81 L614.99,52.71 L615.98,52.61 L616.98,52.49 L617.97,52.37 L618.96,52.23 L619.95,52.09 L620.94,51.93 L621.92,51.76 L622.90,51.56 L623.88,51.34 L624.85,51.09 L625.80,50.79 L626.72,50.41 L627.62,49.97 L628.49,49.48 L629.33,48.96 L629.99,48.54" stroke="#0000f0" stroke-width="2.8" fill="none" stroke-linecap="round" stroke-linejoin="round"/>
<path d="M437.49,187.44 L437.98,187.22 L438.53,186.99 L439.14,186.73 L439.80,186.45 L440.51,186.15 L441.27,185.84 L442.07,185.51 L442.90,185.18 L443.75,184.84 L444.63,184.50 L445.53,184.16 L446.44,183.82 L447.36,183.48 L448.29,183.15 L449.22,182.82 L450.16,182.50 L451.11,182.18 L452.05,181.87 L453.00,181.57 L453.96,181.27 L454.91,180.98 L455.87,180.70 L456.83,180.42 L457.79,180.15 L458.76,179.88 L459.72,179.62 L460.69,179.36 L461.65,179.11 L462.62,178.86 L463.59,178.61 L464.56,178.36 L465.53,178.12 L466.50,177.87 L467.47,177.63 L468.44,177.39 L469.41,177.15 L470.38,176.91 L471.35,176.67 L472.32,176.44 L473.29,176.20 L474.27,175.96 L475.24,175.73 L476.21,175.49 L477.18,175.26 L478.16,175.03 L479.13,174.80 L480.10,174.57 L481.08,174.34 L482.05,174.12 L483.03,173.89 L484.00,173.67 L484.98,173.45 L485.95,173.24 L486.93,173.02 L487.91,172.81 L488.88,172.60 L489.86,172.39 L490.84,172.18 L491.82,171.98 L492.80,171.78 L493.78,171.58 L494.76,171.38 L495.74,171.17 L496.71,170.97 L497.69,170.77 L498.67,170.57 L499.65,170.36 L500.63,170.15 L501.60,169.94 L502.58,169.72 L503.55,169.50 L504.53,169.27 L505.50,169.03 L506.47,168.79 L507.43,168.54 L508.40,168.29 L509.37,168.03 L510.33,167.77 L511.29,167.50 L512.25,167.22 L513.21,166.94 L514.17,166.65 L515.12,166.36 L516.08,166.06 L517.03,165.75 L517.98,165.44 L518.92,165.12 L519.86,164.79 L520.80,164.45 L521.73,164.10 L522.66,163.74 L523.59,163.37 L524.51,162.98 L525.43,162.59 L526.34,162.19 L527.24,161.77 L528.15,161.35 L529.04,160.91 L529.94,160.47 L530.83,160.01 L531.71,159.55 L532.59,159.08 L533.47,158.60 L534.34,158.12 L535.21,157.62 L536.07,157.12 L536.93,156.61 L537.78,156.09 L538.63,155.57 L539.47,155.03 L540.31,154.49 L541.14,153.94 L541.97,153.39 L542.79,152.82 L543.60,152.25 L544.41,151.66 L545.20,151.06 L545.99,150.45 L546.76,149.82 L547.51,149.16 L548.24,148.48 L548.94,147.78 L549.64,147.06 L550.31,146.33 L550.98,145.59 L551.65,144.84 L552.30,144.09 L552.96,143.34 L553.60,142.57 L554.23,141.80 L554.86,141.02 L555.47,140.23 L556.08,139.43 L556.67,138.63 L557.26,137.82 L557.84,137.00 L558.42,136.19 L559.00,135.38 L559.59,134.57 L560.18,133.76 L560.80,132.98 L561.44,132.21 L562.08,131.44 L562.70,130.66 L563.30,129.85 L563.85,129.02 L564.36,128.16 L564.83,127.28 L565.26,126.38 L565.65,125.46 L566.03,124.53 L566.39,123.60 L566.74,122.66 L567.07,121.72 L567.40,120.78 L567.72,119.83 L568.01,118.87 L568.28,117.91 L568.54,116.94 L568.80,115.98 L569.05,115.01 L569.31,114.04 L569.56,113.08 L569.83,112.11 L570.11,111.15 L570.40,110.19 L570.70,109.24 L571.02,108.29 L571.34,107.35 L571.67,106.40 L572.00,105.46 L572.34,104.52 L572.68,103.58 L573.02,102.64 L573.37,101.70 L573.71,100.76 L574.05,99.82 L574.39,98.88 L574.73,97.94 L575.07,97.00 L575.41,96.06 L575.76,95.12 L576.11,94.18 L576.46,93.25 L576.81,92.31 L577.16,91.37 L577.51,90.44 L577.87,89.50 L578.23,88.57 L578.58,87.64 L578.94,86.70 L579.31,85.77 L579.67,84.84 L580.04,83.91 L580.41,82.98 L580.78,82.05 L581.15,81.12 L581.53,80.20 L581.91,79.27 L582.30,78.35 L582.68,77.43 L583.07,76.50 L583.46,75.58 L583.85,74.66 L584.24,73.74 L584.63,72.82 L585.02,71.90 L585.42,70.98 L585.81,70.07 L586.21,69.15 L586.62,68.24 L587.03,67.32 L587.45,66.42 L587.87,65.51 L588.29,64.60 L588.72,63.70 L589.16,62.80 L589.61,61.91 L590.08,61.03 L590.59,60.16 L591.11,59.31 L591.65,58.47 L592.21,57.64 L592.84,56.87 L593.57,56.19 L594.39,55.64 L595.28,55.17 L596.19,54.76 L597.10,54.35 L598.01,53.93 L598.92,53.52 L599.84,53.14 L600.78,52.78 L601.73,52.47 L602.69,52.19 L603.65,51.93 L604.62,51.69 L605.60,51.47 L606.58,51.28 L607.56,51.10 L608.55,50.92 L609.52,50.71 L610.49,50.46 L611.44,50.15 L612.39,49.82 L613.32,49.46 L614.25,49.10 L615.18,48.73 L616.11,48.35 L617.03,47.96 L617.94,47.55 L618.85,47.14 L619.76,46.72 L620.66,46.28 L621.55,45.83 L622.43,45.35 L623.28,44.84 L624.12,44.29 L624.93,43.71 L625.72,43.11 L626.32,42.64" stroke="#000000" stroke-width="2.8" fill="none" stroke-linecap="round" stroke-linejoin="round"/>
<path d="M437.59,210.02 L438.10,209.86 L438.68,209.69 L439.31,209.49 L440.00,209.28 L440.73,209.05 L441.52,208.81 L442.34,208.55 L443.19,208.28 L444.07,208.00 L444.97,207.71 L445.88,207.42 L446.80,207.11 L447.73,206.80 L448.67,206.49 L449.61,206.16 L450.55,205.84 L451.49,205.51 L452.43,205.17 L453.37,204.83 L454.30,204.49 L455.24,204.15 L456.18,203.80 L457.11,203.44 L458.05,203.09 L458.98,202.74 L459.92,202.38 L460.85,202.03 L461.79,201.67 L462.72,201.32 L463.66,200.97 L464.60,200.63 L465.54,200.29 L466.48,199.96 L467.42,199.63 L468.37,199.31 L469.32,199.00 L470.27,198.69 L471.22,198.39 L472.18,198.10 L473.14,197.81 L474.09,197.53 L475.06,197.26 L476.02,196.99 L476.98,196.72 L477.95,196.46 L478.91,196.20 L479.88,195.95 L480.84,195.69 L481.81,195.44 L482.78,195.18 L483.74,194.93 L484.71,194.67 L485.68,194.41 L486.64,194.15 L487.60,193.88 L488.57,193.61 L489.53,193.34 L490.49,193.07 L491.45,192.79 L492.41,192.50 L493.37,192.21 L494.32,191.92 L495.28,191.63 L496.23,191.33 L497.19,191.03 L498.14,190.73 L499.09,190.42 L500.04,190.12 L500.99,189.81 L501.94,189.50 L502.89,189.18 L503.84,188.87 L504.79,188.55 L505.74,188.23 L506.69,187.91 L507.63,187.59 L508.58,187.26 L509.52,186.93 L510.46,186.59 L511.40,186.25 L512.33,185.90 L513.27,185.55 L514.20,185.18 L515.12,184.81 L516.04,184.43 L516.95,184.03 L517.86,183.62 L518.76,183.20 L519.66,182.77 L520.54,182.32 L521.42,181.85 L522.29,181.37 L523.15,180.87 L524.01,180.36 L524.85,179.83 L525.68,179.29 L526.51,178.74 L527.33,178.17 L528.14,177.60 L528.95,177.01 L529.75,176.41 L530.54,175.80 L531.32,175.19 L532.10,174.57 L532.88,173.93 L533.64,173.30 L534.40,172.65 L535.16,172.00 L535.91,171.34 L536.65,170.67 L537.38,169.99 L538.11,169.31 L538.83,168.62 L539.54,167.92 L540.25,167.22 L540.95,166.51 L541.65,165.79 L542.33,165.07 L543.01,164.33 L543.67,163.59 L544.33,162.84 L544.98,162.08 L545.62,161.32 L546.24,160.54 L546.86,159.75 L547.46,158.95 L548.04,158.14 L548.60,157.32 L549.15,156.48 L549.69,155.64 L550.23,154.80 L550.76,153.95 L551.29,153.11 L551.84,152.27 L552.39,151.44 L552.96,150.61 L553.53,149.80 L554.10,148.98 L554.67,148.15 L555.21,147.31 L555.74,146.46 L556.25,145.60 L556.75,144.74 L557.25,143.87 L557.74,143.00 L558.22,142.12 L558.71,141.25 L559.20,140.38 L559.69,139.51 L560.19,138.64 L560.68,137.77 L561.17,136.90 L561.66,136.02 L562.14,135.14 L562.60,134.26 L563.06,133.37 L563.51,132.48 L563.95,131.58 L564.39,130.68 L564.81,129.78 L565.23,128.87 L565.64,127.96 L566.05,127.04 L566.44,126.12 L566.83,125.20 L567.21,124.28 L567.58,123.35 L567.95,122.42 L568.31,121.48 L568.66,120.55 L569.02,119.61 L569.37,118.68 L569.72,117.74 L570.07,116.81 L570.42,115.87 L570.77,114.93 L571.11,113.99 L571.46,113.05 L571.80,112.11 L572.14,111.17 L572.48,110.23 L572.82,109.29 L573.17,108.36 L573.52,107.42 L573.87,106.48 L574.22,105.55 L574.57,104.61 L574.93,103.68 L575.28,102.74 L575.64,101.81 L575.99,100.87 L576.34,99.93 L576.69,99.00 L577.03,98.06 L577.38,97.12 L577.72,96.18 L578.06,95.24 L578.41,94.30 L578.75,93.36 L579.09,92.42 L579.44,91.48 L579.78,90.55 L580.13,89.61 L580.48,88.67 L580.83,87.74 L581.19,86.80 L581.54,85.86 L581.89,84.93 L582.24,83.99 L582.59,83.05 L582.94,82.12 L583.28,81.18 L583.63,80.24 L583.96,79.30 L584.30,78.36 L584.64,77.42 L584.99,76.48 L585.33,75.54 L585.69,74.60 L586.04,73.67 L586.40,72.74 L586.77,71.80 L587.13,70.87 L587.50,69.95 L587.88,69.02 L588.26,68.10 L588.65,67.17 L589.05,66.26 L589.44,65.34 L589.84,64.42 L590.25,63.51 L590.68,62.60 L591.13,61.71 L591.60,60.83 L592.09,59.96 L592.60,59.10 L593.13,58.25 L593.70,57.43 L594.36,56.68 L595.10,56.01 L595.90,55.43 L596.75,54.90 L597.62,54.41 L598.50,53.92 L599.38,53.45 L600.28,53.01 L601.20,52.62 L602.15,52.31 L603.11,52.04 L604.08,51.81 L605.06,51.59 L606.04,51.39 L607.02,51.21 L608.00,51.02 L608.98,50.83 L609.96,50.60 L610.92,50.33 L611.87,50.01 L612.80,49.66 L613.74,49.30 L614.67,48.93 L615.59,48.56 L616.52,48.18 L617.43,47.78 L618.35,47.37 L619.26,46.95 L620.16,46.53 L621.06,46.09 L621.94,45.62 L622.81,45.12 L623.66,44.59 L624.48,44.03 L625.29,43.44 L626.04,42.87" stroke="#f00000" stroke-width="2.8" fill="none" stroke-linecap="round" stroke-linejoin="round"/>
<path d="M437.52,231.60 L438.01,231.40 L438.56,231.17 L439.18,230.92 L439.84,230.64 L440.55,230.35 L441.31,230.03 L442.10,229.69 L442.93,229.35 L443.77,228.98 L444.64,228.61 L445.52,228.23 L446.41,227.84 L447.31,227.44 L448.21,227.04 L449.11,226.63 L450.02,226.21 L450.92,225.79 L451.82,225.37 L452.73,224.94 L453.63,224.51 L454.53,224.08 L455.42,223.64 L456.32,223.19 L457.21,222.75 L458.11,222.30 L459.00,221.85 L459.90,221.41 L460.79,220.96 L461.69,220.52 L462.58,220.08 L463.48,219.64 L464.38,219.21 L465.29,218.79 L466.20,218.37 L467.11,217.96 L468.02,217.56 L468.94,217.17 L469.86,216.79 L470.79,216.41 L471.71,216.05 L472.65,215.69 L473.58,215.34 L474.52,215.00 L475.46,214.67 L476.41,214.34 L477.35,214.02 L478.30,213.70 L479.25,213.39 L480.20,213.08 L481.15,212.77 L482.11,212.47 L483.06,212.17 L484.01,211.87 L484.97,211.57 L485.92,211.27 L486.87,210.97 L487.83,210.67 L488.78,210.36 L489.73,210.06 L490.69,209.76 L491.64,209.45 L492.59,209.15 L493.54,208.84 L494.49,208.53 L495.44,208.22 L496.39,207.91 L497.34,207.59 L498.29,207.27 L499.23,206.95 L500.18,206.62 L501.12,206.29 L502.06,205.96 L503.00,205.62 L503.94,205.27 L504.88,204.92 L505.81,204.57 L506.74,204.20 L507.67,203.83 L508.59,203.46 L509.52,203.07 L510.43,202.68 L511.34,202.27 L512.25,201.86 L513.15,201.43 L514.05,201.00 L514.94,200.55 L515.83,200.09 L516.70,199.62 L517.57,199.14 L518.44,198.64 L519.29,198.13 L520.14,197.61 L520.98,197.07 L521.81,196.52 L522.63,195.96 L523.44,195.38 L524.23,194.79 L525.02,194.18 L525.80,193.56 L526.57,192.93 L527.32,192.28 L528.07,191.62 L528.80,190.95 L529.52,190.26 L530.23,189.57 L530.93,188.86 L531.63,188.14 L532.31,187.42 L532.98,186.68 L533.65,185.94 L534.31,185.19 L534.96,184.44 L535.61,183.67 L536.24,182.91 L536.88,182.13 L537.51,181.36 L538.13,180.58 L538.74,179.79 L539.36,179.00 L539.96,178.20 L540.56,177.41 L541.16,176.61 L541.75,175.80 L542.34,174.99 L542.92,174.18 L543.49,173.36 L544.06,172.54 L544.61,171.71 L545.16,170.88 L545.70,170.04 L546.23,169.19 L546.76,168.34 L547.26,167.48 L547.76,166.61 L548.25,165.74 L548.72,164.86 L549.19,163.98 L549.65,163.09 L550.10,162.19 L550.54,161.30 L550.98,160.40 L551.41,159.50 L551.84,158.60 L552.27,157.69 L552.70,156.79 L553.12,155.89 L553.55,154.98 L553.98,154.08 L554.40,153.17 L554.81,152.26 L555.23,151.35 L555.64,150.44 L556.04,149.52 L556.45,148.61 L556.85,147.70 L557.26,146.78 L557.67,145.87 L558.07,144.95 L558.48,144.04 L558.89,143.13 L559.30,142.22 L559.71,141.30 L560.12,140.39 L560.52,139.48 L560.93,138.57 L561.34,137.65 L561.76,136.74 L562.17,135.83 L562.59,134.92 L563.02,134.02 L563.45,133.12 L563.88,132.21 L564.30,131.31 L564.73,130.40 L565.14,129.49 L565.54,128.58 L565.93,127.66 L566.31,126.73 L566.68,125.80 L567.05,124.87 L567.40,123.94 L567.75,123.00 L568.09,122.06 L568.42,121.12 L568.74,120.17 L569.05,119.22 L569.35,118.26 L569.63,117.30 L569.91,116.34 L570.19,115.38 L570.46,114.42 L570.73,113.46 L571.01,112.50 L571.29,111.54 L571.58,110.58 L571.87,109.62 L572.17,108.67 L572.47,107.72 L572.78,106.77 L573.09,105.81 L573.40,104.86 L573.71,103.91 L574.02,102.96 L574.33,102.01 L574.64,101.06 L574.95,100.11 L575.26,99.16 L575.57,98.21 L575.89,97.26 L576.20,96.31 L576.52,95.36 L576.84,94.41 L577.16,93.47 L577.49,92.52 L577.83,91.58 L578.17,90.64 L578.52,89.71 L578.88,88.77 L579.23,87.84 L579.59,86.90 L579.94,85.97 L580.30,85.03 L580.65,84.10 L581.00,83.16 L581.35,82.22 L581.70,81.29 L582.04,80.35 L582.39,79.41 L582.75,78.48 L583.10,77.54 L583.46,76.61 L583.82,75.67 L584.18,74.74 L584.55,73.81 L584.92,72.88 L585.29,71.95 L585.66,71.03 L586.05,70.10 L586.44,69.18 L586.83,68.26 L587.22,67.34 L587.62,66.42 L588.03,65.51 L588.45,64.61 L588.90,63.71 L589.36,62.82 L589.84,61.95 L590.33,61.08 L590.85,60.22 L591.39,59.38 L591.96,58.56 L592.56,57.76 L593.19,56.98 L593.84,56.23 L594.56,55.53 L595.35,54.93 L596.23,54.45 L597.14,54.05 L598.07,53.67 L598.99,53.29 L599.91,52.89 L600.83,52.51 L601.77,52.18 L602.74,51.91 L603.71,51.68 L604.69,51.47 L605.67,51.27 L606.65,51.08 L607.63,50.90 L608.61,50.71 L609.59,50.49 L610.56,50.24 L611.51,49.93 L612.45,49.60 L613.38,49.24 L614.31,48.87 L615.24,48.50 L616.17,48.12 L617.09,47.73 L618.00,47.32 L618.91,46.91 L619.82,46.49 L620.72,46.05 L621.61,45.60 L622.48,45.12 L623.35,44.61 L624.19,44.07 L625.02,43.51 L625.83,42.93 L626.51,42.42" stroke="#00ee00" stroke-width="2.8" fill="none" stroke-linecap="round" stroke-linejoin="round"/>
<path d="M437.55,247.38 L438.05,247.20 L438.61,246.99 L439.23,246.76 L439.90,246.51 L440.63,246.23 L441.39,245.94 L442.20,245.63 L443.03,245.31 L443.89,244.97 L444.76,244.63 L445.65,244.27 L446.56,243.91 L447.46,243.53 L448.38,243.16 L449.29,242.77 L450.20,242.38 L451.12,241.99 L452.03,241.59 L452.95,241.18 L453.86,240.77 L454.77,240.36 L455.67,239.94 L456.58,239.52 L457.49,239.09 L458.39,238.66 L459.29,238.23 L460.19,237.80 L461.09,237.36 L461.99,236.92 L462.89,236.49 L463.79,236.05 L464.69,235.61 L465.59,235.17 L466.49,234.74 L467.39,234.30 L468.29,233.87 L469.19,233.44 L470.09,233.01 L471.00,232.58 L471.90,232.15 L472.81,231.73 L473.71,231.31 L474.62,230.88 L475.53,230.46 L476.43,230.05 L477.34,229.63 L478.25,229.22 L479.16,228.80 L480.08,228.39 L480.99,227.98 L481.90,227.57 L482.81,227.17 L483.73,226.76 L484.64,226.36 L485.56,225.96 L486.48,225.57 L487.40,225.17 L488.32,224.78 L489.24,224.39 L490.16,224.01 L491.09,223.63 L492.01,223.24 L492.94,222.87 L493.86,222.49 L494.79,222.11 L495.72,221.74 L496.64,221.36 L497.57,220.99 L498.49,220.61 L499.42,220.23 L500.34,219.85 L501.27,219.47 L502.19,219.08 L503.11,218.68 L504.02,218.29 L504.94,217.88 L505.85,217.48 L506.76,217.06 L507.67,216.64 L508.57,216.22 L509.47,215.79 L510.37,215.35 L511.27,214.91 L512.16,214.46 L513.04,214.00 L513.93,213.54 L514.81,213.07 L515.68,212.58 L516.54,212.09 L517.40,211.59 L518.25,211.08 L519.10,210.55 L519.94,210.01 L520.76,209.46 L521.59,208.90 L522.40,208.33 L523.21,207.76 L524.02,207.17 L524.82,206.58 L525.61,205.98 L526.41,205.38 L527.20,204.77 L527.99,204.16 L528.78,203.55 L529.56,202.94 L530.34,202.32 L531.11,201.69 L531.87,201.05 L532.62,200.41 L533.36,199.75 L534.08,199.07 L534.79,198.39 L535.48,197.68 L536.16,196.96 L536.82,196.23 L537.46,195.47 L538.09,194.71 L538.69,193.92 L539.29,193.13 L539.87,192.32 L540.44,191.51 L540.99,190.69 L541.54,189.85 L542.07,189.01 L542.58,188.16 L543.09,187.30 L543.59,186.43 L544.08,185.56 L544.56,184.68 L545.03,183.80 L545.50,182.92 L545.95,182.03 L546.41,181.14 L546.86,180.25 L547.30,179.35 L547.73,178.45 L548.16,177.55 L548.59,176.64 L549.00,175.74 L549.42,174.82 L549.82,173.91 L550.23,173.00 L550.62,172.08 L551.02,171.16 L551.40,170.24 L551.79,169.31 L552.17,168.39 L552.54,167.46 L552.92,166.54 L553.29,165.61 L553.65,164.68 L554.01,163.74 L554.36,162.80 L554.70,161.86 L555.03,160.92 L555.36,159.98 L555.68,159.03 L556.01,158.08 L556.33,157.14 L556.65,156.19 L556.98,155.25 L557.31,154.30 L557.64,153.36 L557.98,152.42 L558.32,151.48 L558.68,150.54 L559.04,149.61 L559.41,148.68 L559.78,147.75 L560.16,146.83 L560.53,145.90 L560.91,144.97 L561.28,144.05 L561.65,143.12 L562.02,142.19 L562.38,141.25 L562.74,140.32 L563.10,139.39 L563.46,138.46 L563.82,137.52 L564.18,136.59 L564.55,135.66 L564.91,134.73 L565.28,133.80 L565.66,132.87 L566.04,131.95 L566.42,131.02 L566.80,130.10 L567.17,129.17 L567.53,128.24 L567.89,127.30 L568.23,126.36 L568.56,125.42 L568.87,124.47 L569.19,123.52 L569.50,122.57 L569.81,121.62 L570.12,120.67 L570.43,119.72 L570.74,118.77 L571.06,117.82 L571.38,116.87 L571.69,115.92 L572.01,114.97 L572.32,114.03 L572.64,113.08 L572.96,112.13 L573.27,111.18 L573.59,110.23 L573.91,109.28 L574.22,108.33 L574.54,107.38 L574.85,106.44 L575.17,105.49 L575.49,104.54 L575.80,103.59 L576.12,102.64 L576.44,101.69 L576.75,100.74 L577.07,99.79 L577.38,98.84 L577.69,97.90 L578.01,96.95 L578.32,96.00 L578.64,95.05 L578.96,94.10 L579.28,93.15 L579.60,92.21 L579.93,91.26 L580.26,90.32 L580.59,89.37 L580.92,88.43 L581.26,87.49 L581.60,86.55 L581.93,85.61 L582.27,84.66 L582.60,83.72 L582.93,82.78 L583.26,81.83 L583.58,80.89 L583.91,79.94 L584.24,79.00 L584.57,78.05 L584.91,77.11 L585.25,76.17 L585.60,75.24 L585.95,74.30 L586.31,73.37 L586.68,72.44 L587.04,71.51 L587.42,70.58 L587.80,69.65 L588.19,68.73 L588.58,67.81 L588.98,66.90 L589.39,65.98 L589.80,65.07 L590.23,64.17 L590.67,63.27 L591.13,62.38 L591.61,61.51 L592.11,60.64 L592.63,59.79 L593.16,58.94 L593.74,58.12 L594.38,57.36 L595.10,56.68 L595.90,56.08 L596.75,55.54 L597.61,55.03 L598.46,54.51 L599.31,53.99 L600.17,53.48 L601.06,53.02 L601.97,52.61 L602.91,52.25 L603.85,51.94 L604.81,51.66 L605.78,51.43 L606.77,51.23 L607.75,51.06 L608.73,50.87 L609.71,50.66 L610.67,50.40 L611.63,50.09 L612.57,49.75 L613.50,49.39 L614.43,49.03 L615.36,48.66 L616.28,48.27 L617.20,47.88 L618.12,47.47 L619.02,47.06 L619.93,46.64 L620.83,46.20 L621.72,45.74 L622.59,45.25 L623.44,44.73 L624.27,44.17 L625.08,43.59 L625.86,42.99 L626.44,42.53" stroke="#c0c0c0" stroke-width="2.8" fill="none" stroke-linecap="round" stroke-linejoin="round"/>
<path d="M437.41,264.08 L437.88,263.83 L438.41,263.55 L439.00,263.24 L439.63,262.90 L440.32,262.54 L441.04,262.15 L441.80,261.75 L442.59,261.33 L443.40,260.89 L444.23,260.45 L445.08,259.99 L445.94,259.54 L446.80,259.07 L447.67,258.60 L448.54,258.13 L449.42,257.66 L450.30,257.19 L451.17,256.71 L452.05,256.23 L452.93,255.76 L453.81,255.28 L454.69,254.80 L455.56,254.32 L456.44,253.84 L457.32,253.36 L458.19,252.88 L459.07,252.40 L459.95,251.92 L460.82,251.44 L461.70,250.96 L462.58,250.48 L463.46,250.01 L464.34,249.53 L465.23,249.06 L466.11,248.60 L466.99,248.13 L467.88,247.67 L468.77,247.21 L469.66,246.76 L470.55,246.30 L471.44,245.85 L472.34,245.41 L473.24,244.97 L474.13,244.53 L475.03,244.09 L475.93,243.66 L476.84,243.22 L477.74,242.80 L478.64,242.37 L479.55,241.95 L480.46,241.52 L481.36,241.11 L482.27,240.69 L483.18,240.28 L484.09,239.87 L485.01,239.46 L485.92,239.05 L486.84,238.65 L487.75,238.25 L488.67,237.85 L489.59,237.45 L490.51,237.06 L491.43,236.67 L492.35,236.28 L493.27,235.89 L494.19,235.51 L495.11,235.12 L496.04,234.74 L496.96,234.35 L497.88,233.97 L498.80,233.58 L499.72,233.19 L500.64,232.79 L501.56,232.39 L502.47,231.99 L503.38,231.58 L504.29,231.16 L505.20,230.74 L506.10,230.31 L506.99,229.87 L507.89,229.43 L508.78,228.97 L509.66,228.51 L510.54,228.04 L511.41,227.56 L512.28,227.07 L513.14,226.56 L514.00,226.05 L514.85,225.53 L515.69,224.99 L516.52,224.45 L517.35,223.89 L518.17,223.32 L518.98,222.74 L519.78,222.15 L520.57,221.55 L521.36,220.93 L522.13,220.31 L522.90,219.67 L523.66,219.03 L524.42,218.38 L525.16,217.71 L525.90,217.04 L526.62,216.36 L527.34,215.67 L528.05,214.97 L528.76,214.26 L529.45,213.54 L530.14,212.82 L530.81,212.09 L531.48,211.34 L532.14,210.59 L532.78,209.84 L533.42,209.07 L534.05,208.30 L534.67,207.52 L535.28,206.73 L535.88,205.93 L536.48,205.13 L537.06,204.32 L537.64,203.51 L538.21,202.69 L538.77,201.86 L539.33,201.03 L539.88,200.20 L540.43,199.37 L540.98,198.53 L541.52,197.69 L542.05,196.84 L542.58,196.00 L543.10,195.15 L543.62,194.29 L544.14,193.43 L544.64,192.57 L545.14,191.70 L545.62,190.83 L546.10,189.96 L546.57,189.07 L547.04,188.19 L547.49,187.30 L547.94,186.41 L548.38,185.51 L548.81,184.61 L549.23,183.70 L549.64,182.79 L550.05,181.88 L550.44,180.96 L550.83,180.04 L551.20,179.11 L551.57,178.18 L551.93,177.24 L552.28,176.31 L552.62,175.37 L552.97,174.43 L553.31,173.49 L553.64,172.55 L553.98,171.61 L554.32,170.67 L554.66,169.73 L555.00,168.79 L555.34,167.85 L555.68,166.90" stroke="#ff00ff" stroke-width="2.8" fill="none" stroke-linecap="round" stroke-linejoin="round"/>
<path d="M555.68,166.90 L556.01,165.96 L556.35,165.02 L556.68,164.08 L557.02,163.14 L557.35,162.19 L557.69,161.25 L558.02,160.31 L558.37,159.37 L558.71,158.43 L559.05,157.49 L559.39,156.55 L559.73,155.61 L560.08,154.67 L560.43,153.74 L560.78,152.80 L561.15,151.87 L561.53,150.94 L561.93,150.03 L562.34,149.12 L562.78,148.22 L563.22,147.32 L563.65,146.42 L564.07,145.51 L564.47,144.60 L564.85,143.67 L565.20,142.73 L565.54,141.79 L565.87,140.85 L566.18,139.90 L566.49,138.95 L566.80,138.00 L567.09,137.04 L567.39,136.09 L567.68,135.13 L567.96,134.17 L568.24,133.21 L568.51,132.25 L568.78,131.28 L569.04,130.32 L569.30,129.35 L569.56,128.39 L569.82,127.42 L570.09,126.46 L570.36,125.49 L570.63,124.53 L570.90,123.57 L571.18,122.61 L571.45,121.65 L571.73,120.69 L572.00,119.72 L572.28,118.76 L572.55,117.80 L572.83,116.84 L573.11,115.88 L573.38,114.92 L573.66,113.96 L573.94,113.00 L574.21,112.04 L574.49,111.08 L574.77,110.12 L575.05,109.15 L575.33,108.19 L575.60,107.23 L575.88,106.27 L576.16,105.31 L576.43,104.35 L576.71,103.39 L576.98,102.43 L577.26,101.47 L577.53,100.50 L577.81,99.54 L578.08,98.58 L578.35,97.62 L578.63,96.66 L578.90,95.69 L579.17,94.73 L579.44,93.77 L579.71,92.81 L579.98,91.84 L580.25,90.88 L580.53,89.92 L580.80,88.96" stroke="#ff00ff" stroke-width="2.9" fill="none" stroke-linecap="round" stroke-dasharray="0.01 3.0"/>
<path d="M580.53,89.92 L580.80,88.96 L581.07,88.00 L581.35,87.03 L581.62,86.07 L581.90,85.11 L582.18,84.15 L582.46,83.19 L582.74,82.23 L583.02,81.27 L583.30,80.31 L583.58,79.35 L583.87,78.40 L584.17,77.44 L584.46,76.48 L584.76,75.53 L585.05,74.57 L585.36,73.62 L585.66,72.67 L585.97,71.72 L586.29,70.77 L586.61,69.82 L586.94,68.88 L587.29,67.94 L587.63,67.00 L587.99,66.07 L588.35,65.13 L588.72,64.21 L589.11,63.29 L589.53,62.38 L589.96,61.48 L590.41,60.58 L590.88,59.70 L591.37,58.83 L591.90,57.98 L592.48,57.17 L593.11,56.39 L593.77,55.64 L594.47,54.93 L595.24,54.30 L596.09,53.79 L597.02,53.41 L597.97,53.11 L598.94,52.86 L599.91,52.62 L600.88,52.38 L601.85,52.14 L602.82,51.92 L603.80,51.71 L604.78,51.51 L605.77,51.34 L606.76,51.19 L607.74,51.03 L608.73,50.86 L609.71,50.66 L610.67,50.41 L611.63,50.10 L612.57,49.76 L613.50,49.40 L614.43,49.03 L615.36,48.66 L616.28,48.28 L617.20,47.88 L618.11,47.47 L619.02,47.06 L619.93,46.64 L620.83,46.21 L621.72,45.75 L622.59,45.26 L623.43,44.72 L624.25,44.14 L625.04,43.53 L625.80,42.91 L626.35,42.43" stroke="#ff00ff" stroke-width="2.8" fill="none" stroke-linecap="round" stroke-linejoin="round"/>
<path d="M596.60,42.60 L596.50,60.00 L596.30,90.40 L597.40,147.50 L598.00,166.40 L599.50,191.10 L600.60,209.70 L602.70,223.70" stroke="#3a55ff" stroke-width="0.9" fill="none"/>
<path d="M618.00,82.90 L617.00,117.20 L616.00,137.10 L614.70,167.50 L611.70,191.90 L610.20,198.50 L609.10,208.30 L607.20,218.40 L606.00,224.30" stroke="#3a55ff" stroke-width="0.9" fill="none"/>
<path d="M602.7,223.7 L604.6,222.9 L606,224.3 L608,225.6" stroke="#3a55ff" stroke-width="0.9" fill="none"/>
<line x1="594.4" y1="47.3" x2="599.2" y2="47.3" stroke="#666" stroke-width="0.8"/>
<g fill="#1030ee">
<circle cx="596.3" cy="90.4" r="1.4"/>
<circle cx="597.4" cy="147.5" r="1.4"/>
<circle cx="598.0" cy="166.4" r="1.4"/>
<circle cx="599.5" cy="191.1" r="1.4"/>
<circle cx="600.6" cy="209.7" r="1.4"/>
<circle cx="602.7" cy="223.7" r="1.4"/>
<circle cx="604.6" cy="222.9" r="1.4"/>
<circle cx="618.0" cy="82.9" r="1.4"/>
<circle cx="617.0" cy="117.2" r="1.4"/>
<circle cx="612.9" cy="132.8" r="1.4"/>
<circle cx="616.0" cy="137.1" r="1.4"/>
<circle cx="614.7" cy="167.5" r="1.4"/>
<circle cx="611.7" cy="191.9" r="1.4"/>
<circle cx="610.2" cy="198.5" r="1.4"/>
<circle cx="609.1" cy="208.3" r="1.4"/>
<circle cx="607.2" cy="218.4" r="1.4"/>
<circle cx="608.0" cy="225.6" r="1.4"/>
<circle cx="605.9" cy="224.3" r="1.4"/>
<circle cx="601.3" cy="240.2" r="1.4"/>
<circle cx="602.8" cy="240.2" r="1.4"/>
</g>
<g font-family="Liberation Sans, sans-serif" font-size="8.3" fill="#333">
<text x="402.4" y="49.9" text-anchor="end">0</text>
<text x="402.4" y="96.7" text-anchor="end">-1</text>
<text x="402.4" y="143.5" text-anchor="end">-2</text>
<text x="402.4" y="190.3" text-anchor="end">-3</text>
<text x="402.4" y="237.1" text-anchor="end">-4</text>
<text x="402.4" y="283.6" text-anchor="end">-5</text>
<text x="439.5" y="288.6" text-anchor="middle">0</text>
<text x="472.5" y="288.6" text-anchor="middle">0.2</text>
<text x="505.5" y="288.6" text-anchor="middle">0.4</text>
<text x="538.5" y="288.6" text-anchor="middle">0.6</text>
<text x="571.5" y="288.6" text-anchor="middle">0.8</text>
<text x="604.5" y="288.6" text-anchor="middle">1</text>
<text x="637.5" y="288.6" text-anchor="middle">1.2</text>
<text x="658.2" y="81.1">1.6</text>
<text x="658.2" y="116.1">1.4</text>
<text x="658.2" y="151.2">1.2</text>
<text x="658.2" y="186.2">1</text>
<text x="658.2" y="221.4">0.8</text>
<text x="658.2" y="256.5">0.6</text>
<text x="530.2" y="298.5" text-anchor="middle">E, V vs RHE</text>
<text transform="translate(389.2,161.8) rotate(-90)" text-anchor="middle" font-size="7.9">j, mA/cm<tspan font-size="5.7" dy="-3.4">2</tspan></text>
<text transform="translate(679.6,160.8) rotate(-90)" text-anchor="middle" font-size="7.4">dj<tspan font-size="6" dy="-3.5">2</tspan><tspan dy="3.5">/dV</tspan><tspan font-size="6" dy="-3.5">2</tspan><tspan dy="3.5">/mA cm</tspan><tspan font-size="6" dy="-3.5">-2</tspan><tspan dy="3.5"> V</tspan><tspan font-size="6" dy="-3.5">-2</tspan></text>
<text x="566.9" y="164.8">rpm</text>
<text x="566.9" y="173.9">400</text>
<text x="566.9" y="182.9">800</text>
<text x="566.9" y="192.0">1200</text>
<text x="566.9" y="201.0">1600</text>
<text x="566.9" y="210.1">2000</text>
<text x="566.9" y="219.1">2400</text>
<text x="555" y="259.7" font-size="8.5">E<tspan font-size="6.6" dy="2">onset</tspan><tspan dy="-2">=1.00 (0.96) V</tspan></text>
</g>
<text transform="translate(402.4,28) scale(0.8,1)" font-family="Liberation Sans, sans-serif" font-size="17" fill="#1a1a1a">e</text>
<text transform="translate(411.4,28) scale(0.85,0.95)" font-family="Liberation Sans, sans-serif" font-size="17" fill="#1a1a1a">)</text>
<g id="f1" shape-rendering="crispEdges"><rect x="162.69" y="152.07" width="3.66" height="3.13" fill="#fff"/><rect x="168.45" y="152.07" width="2.96" height="3.13" fill="#fff"/><rect x="84.52" y="62.47" width="3.66" height="3.12" fill="#fff"/><rect x="90.29" y="62.47" width="2.95" height="3.12" fill="#fff"/><rect x="159.33" y="331.61" width="3.79" height="2.99" fill="#fff"/><rect x="164.96" y="331.61" width="3.09" height="2.99" fill="#fff"/><rect x="89.41" y="236.48" width="3.90" height="3.02" fill="#fff"/><rect x="95.19" y="236.48" width="3.18" height="3.02" fill="#fff"/><rect x="96.33" y="236.48" width="3.90" height="3.02" fill="#fff"/><rect x="102.11" y="236.48" width="3.18" height="3.02" fill="#fff"/><rect x="213.22" y="239.01" width="3.79" height="2.99" fill="#fff"/><rect x="218.85" y="239.01" width="3.09" height="2.99" fill="#fff"/><rect x="397.29" y="95.18" width="2.29" height="2.52" fill="#fff"/><rect x="400.83" y="95.18" width="1.88" height="2.52" fill="#fff"/><rect x="601.72" y="287.08" width="2.29" height="2.52" fill="#fff"/><rect x="605.26" y="287.08" width="1.88" height="2.52" fill="#fff"/><rect x="631.26" y="287.08" width="2.29" height="2.52" fill="#fff"/><rect x="634.80" y="287.08" width="1.88" height="2.52" fill="#fff"/><rect x="657.73" y="79.58" width="2.29" height="2.52" fill="#fff"/><rect x="661.27" y="79.58" width="1.88" height="2.52" fill="#fff"/><rect x="657.73" y="114.58" width="2.29" height="2.52" fill="#fff"/><rect x="661.27" y="114.58" width="1.88" height="2.52" fill="#fff"/><rect x="657.73" y="149.68" width="2.29" height="2.52" fill="#fff"/><rect x="661.27" y="149.68" width="1.88" height="2.52" fill="#fff"/><rect x="657.73" y="184.68" width="2.29" height="2.52" fill="#fff"/><rect x="661.27" y="184.68" width="1.88" height="2.52" fill="#fff"/><rect x="566.43" y="190.48" width="2.29" height="2.52" fill="#fff"/><rect x="569.97" y="190.48" width="1.88" height="2.52" fill="#fff"/><rect x="566.43" y="199.48" width="2.29" height="2.52" fill="#fff"/><rect x="569.97" y="199.48" width="1.88" height="2.52" fill="#fff"/></g>
</svg>
</body></html>
